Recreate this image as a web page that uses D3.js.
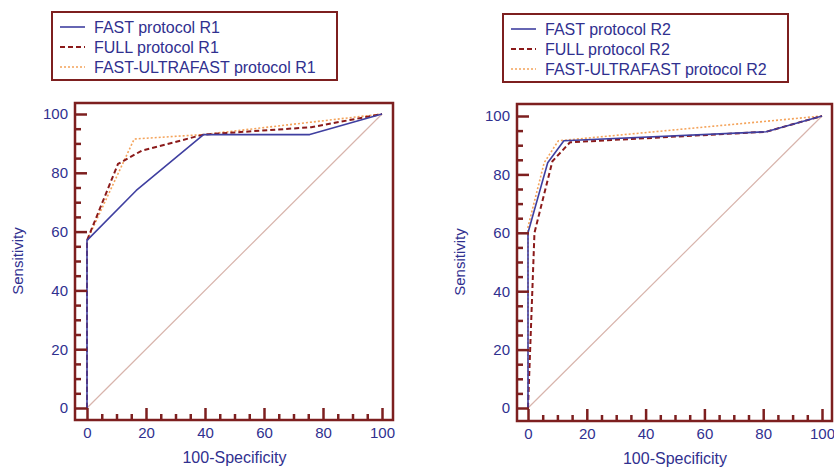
<!DOCTYPE html>
<html>
<head>
<meta charset="utf-8">
<script src="https://cdn.jsdelivr.net/npm/d3@7"></script>
<style>
  body { margin: 0; background: #fff; }
  svg { display: block; }
  text { font-family: Arial, "Liberation Sans", sans-serif; fill: #30308f; }
</style>
</head>
<body>
<svg id="chart" width="834" height="468"></svg>
<script>
// ROC curves: 100-Specificity (x) vs Sensitivity (y), two readers
const fastR1      = [[0, 0], [0, 57], [16.7, 74], [39.5, 93], [75.5, 93], [100, 100]];
const fullR1      = [[0, 0], [0, 57], [10.5, 83], [18.5, 87.5], [39.5, 93], [76, 95.5], [100, 100]];
const ultraR1     = [[0, 0], [0, 57], [16, 91.5], [39.5, 93], [100, 100]];

const fastR2      = [[0, 0], [0, 60], [6.7, 84], [12.2, 91.5], [81, 94.6], [100, 100]];
const fullR2      = [[0, 0], [2.2, 60], [8.3, 84.5], [14.3, 91], [81, 94.6], [100, 100]];
const ultraR2     = [[0, 0], [0, 62], [5.5, 84], [10.3, 91.5], [100, 100]];

const diagonal    = [[0, 0], [100, 100]];

const legendR1 = ["FAST protocol R1", "FULL protocol R1", "FAST-ULTRAFAST protocol R1"];
const legendR2 = ["FAST protocol R2", "FULL protocol R2", "FAST-ULTRAFAST protocol R2"];

const majorTicks = [0, 20, 40, 60, 80, 100];
const minorTicks = [5, 10, 15, 25, 30, 35, 45, 50, 55, 65, 70, 75, 85, 90, 95];

const frameColor = "#7d1f1f";
const textColor = "#30308f";
const styles = [
  { color: "#3f3fa0", width: 1.6, dash: null },
  { color: "#8b1a1a", width: 2, dash: "5,3" },
  { color: "#f4a35a", width: 1.6, dash: "2,2" }
];

const svg = d3.select("#chart");

function drawPanel(p) {
  const g = svg.append("g");
  const x = d3.scaleLinear().domain([0, 100]).range([p.x0, p.x1]);
  const y = d3.scaleLinear().domain([0, 100]).range([p.y0, p.y1]);

  // legend box
  g.append("rect")
    .attr("x", p.lx).attr("y", p.ly).attr("width", 285).attr("height", 68)
    .attr("fill", "none").attr("stroke", frameColor).attr("stroke-width", 2);
  p.legend.forEach((label, i) => {
    const cy = p.ly + 15 + i * 20;
    g.append("line")
      .attr("x1", p.lx + 8).attr("x2", p.lx + 33)
      .attr("y1", cy).attr("y2", cy)
      .attr("stroke", styles[i].color).attr("stroke-width", styles[i].width)
      .attr("stroke-dasharray", styles[i].dash);
    g.append("text")
      .attr("x", p.lx + 42).attr("y", cy + 5.5)
      .attr("font-size", 16).text(label);
  });

  // diagonal reference line
  const line = d3.line().x(d => x(d[0])).y(d => y(d[1]));
  g.append("path").datum(diagonal).attr("d", line)
    .attr("fill", "none").attr("stroke", "#d8b4ac").attr("stroke-width", 1.2);

  // ROC curves, drawn back to front
  [2, 1, 0].forEach(i => {
    g.append("path").datum(p.series[i]).attr("d", line)
      .attr("fill", "none")
      .attr("stroke", styles[i].color).attr("stroke-width", styles[i].width)
      .attr("stroke-dasharray", styles[i].dash)
      .attr("stroke-linejoin", "round");
  });

  // frame
  g.append("rect")
    .attr("x", p.fx0).attr("y", p.fy0)
    .attr("width", p.fx1 - p.fx0).attr("height", p.fy1 - p.fy0)
    .attr("fill", "none").attr("stroke", frameColor).attr("stroke-width", 2.5);

  // axes with inward ticks
  const yAxis = g.append("g").attr("transform", `translate(${p.fx0},0)`)
    .call(d3.axisLeft(y).tickValues(majorTicks).tickSizeInner(-12).tickSizeOuter(0).tickPadding(7));
  const yMinor = g.append("g").attr("transform", `translate(${p.fx0},0)`)
    .call(d3.axisLeft(y).tickValues(minorTicks).tickSizeInner(-6).tickSizeOuter(0).tickFormat(""));
  const xAxis = g.append("g").attr("transform", `translate(0,${p.fy1})`)
    .call(d3.axisBottom(x).tickValues(majorTicks).tickSizeInner(-12).tickSizeOuter(0).tickPadding(7));
  const xMinor = g.append("g").attr("transform", `translate(0,${p.fy1})`)
    .call(d3.axisBottom(x).tickValues(minorTicks).tickSizeInner(-6).tickSizeOuter(0).tickFormat(""));
  [yAxis, yMinor, xAxis, xMinor].forEach(a => {
    a.select(".domain").remove();
    a.selectAll(".tick line").attr("stroke", frameColor).attr("stroke-width", 2.5);
    a.selectAll(".tick text").attr("fill", textColor)
      .attr("font-family", "Arial, 'Liberation Sans', sans-serif").attr("font-size", 15);
  });

  // axis titles
  g.append("text")
    .attr("x", (p.x0 + p.x1) / 2).attr("y", p.fy1 + 43)
    .attr("text-anchor", "middle").attr("font-size", 16).text("100-Specificity");
  g.append("text")
    .attr("transform", `translate(${p.fx0 - 52},${(p.y0 + p.y1) / 2}) rotate(-90)`)
    .attr("text-anchor", "middle").attr("font-size", 15).text("Sensitivity");
}

drawPanel({
  x0: 87, x1: 382, y0: 408, y1: 114,
  fx0: 75, fx1: 393, fy0: 103, fy1: 420,
  lx: 52, ly: 12, legend: legendR1,
  series: [fastR1, fullR1, ultraR1]
});
drawPanel({
  x0: 528, x1: 822, y0: 408, y1: 116,
  fx0: 517, fx1: 832, fy0: 104, fy1: 421,
  lx: 503, ly: 14, legend: legendR2,
  series: [fastR2, fullR2, ultraR2]
});
</script>
</body>
</html>
